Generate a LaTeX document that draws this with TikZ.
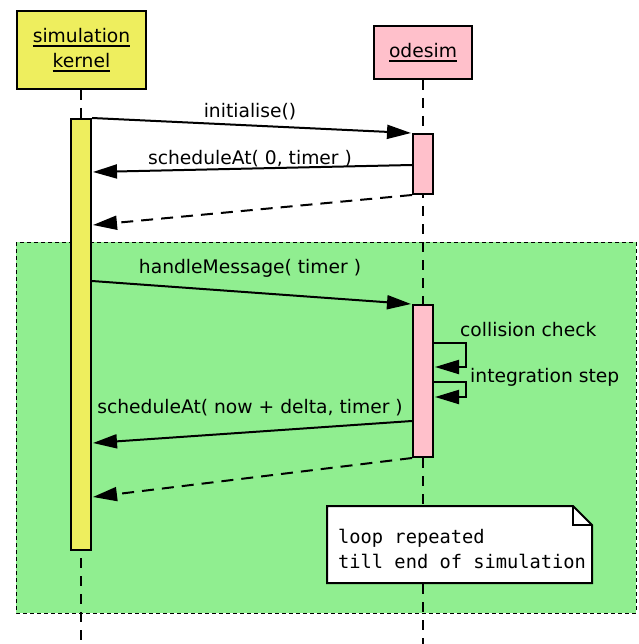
\documentclass[tikz,border=0pt]{standalone}
\usepackage{fontspec}
\setmainfont{DejaVu Sans}
\newfontfamily\notefont{DejaVu Sans Mono}
\usetikzlibrary{arrows.meta}
\definecolor{kyellow}{RGB}{238,238,94}
\definecolor{opink}{RGB}{255,192,203}
\definecolor{lgreen}{RGB}{144,238,144}
\newcommand\myul[1]{\setbox0\hbox{#1}\leavevmode\rlap{\rule[-4.2pt]{\wd0}{1.7pt}}\box0}
\tikzset{
  lifebox/.style={draw, line width=2pt, inner sep=0pt, align=center},
  actbar/.style={draw, line width=2pt, minimum width=20pt, inner sep=0pt},
  lifeline/.style={line width=2pt, dash pattern=on 10pt off 8pt},
  msg/.style={line width=2pt, -{Triangle[length=24pt,width=14pt]}},
  ret/.style={msg, dash pattern=on 12pt off 8pt},
  loopframe/.style={fill=lgreen, draw, line width=1pt, dash pattern=on 4pt off 3pt},
  lbl/.style={anchor=base, inner sep=0pt},
  notetext/.style={inner sep=0pt, align=left, font=\notefont\fontsize{18.7}{25}\selectfont},
  noteline/.style={draw, fill=white, line width=2pt, line join=miter}
}
\begin{document}
\begin{tikzpicture}[x=1pt, y=-1pt, font=\fontsize{18.7}{24}\selectfont]
\useasboundingbox (0,0) rectangle (638,644);
% loop frame
\path[loopframe] (16,242) rectangle (636,613);
% lifeline heads
\node[lifebox, fill=kyellow, minimum width=129pt, minimum height=78pt] (kernel) at (81.5,50) {\myul{simulation}\\[1pt]\myul{kernel}};
\node[lifebox, fill=opink, minimum width=98pt, minimum height=53pt] (odesim) at (423,52.5) {\myul{odesim}};
\coordinate (kend) at (81,644);
\coordinate (oend) at (423,644);
% lifelines
\draw[lifeline] (kernel.south -| kend) -- (kend);
\draw[lifeline] (odesim.south -| oend) -- (oend);
% activation bars
\node[actbar, fill=kyellow, minimum height=431pt] (kbar) at (81,334.5) {};
\node[actbar, fill=opink, minimum height=60pt] (obar1) at (423,164) {};
\node[actbar, fill=opink, minimum height=152pt] (obar2) at (423,381) {};
% messages
\coordinate (m1s) at (92,118);   \coordinate (m1e) at (411,133);
\coordinate (m2s) at (412,165);  \coordinate (m2e) at (93,172);
\coordinate (m3s) at (412,195);  \coordinate (m3e) at (93,225);
\coordinate (m4s) at (92,281);   \coordinate (m4e) at (411,304);
\coordinate (m7s) at (412,421);  \coordinate (m7e) at (93,443);
\coordinate (m8s) at (412,458);  \coordinate (m8e) at (93,497);
\draw[msg] (m1s) -- (m1e);
\draw[msg] (m2s) -- (m2e);
\draw[ret] (m3s) -- (m3e);
\draw[msg] (m4s) -- (m4e);
\draw[msg] (m7s) -- (m7e);
\draw[ret] (m8s) -- (m8e);
% self messages
\coordinate (s1s) at (434,343); \coordinate (s1e) at (435,367);
\coordinate (s2s) at (434,382); \coordinate (s2e) at (435,397);
\draw[msg] (s1s) -- (466,343) -- (466,367) -- (s1e);
\draw[msg] (s2s) -- (466,382) -- (466,397) -- (s2e);
% labels
\node[lbl] (l1) at (250,118) {initialise()};
\node[lbl] (l2) at (250,165) {scheduleAt( 0, timer )};
\node[lbl] (l4) at (250,273) {handleMessage( timer )};
\node[lbl] (l7) at (250,413) {scheduleAt( now + delta, timer )};
\node[lbl, anchor=base west] (l5) at (460,336) {collision check};
\node[lbl, anchor=base west] (l6) at (470,382) {integration step};
% note
\path[noteline] (327,506) -- (573,506) -- (592,525) -- (592,583) -- (327,583) -- cycle;
\draw[line width=2pt] (573,506) -- (573,525) -- (592,525);
\node[notetext, anchor=base west] (note) at (338,568) {loop repeated\\till end of simulation};
\end{tikzpicture}
\end{document}
